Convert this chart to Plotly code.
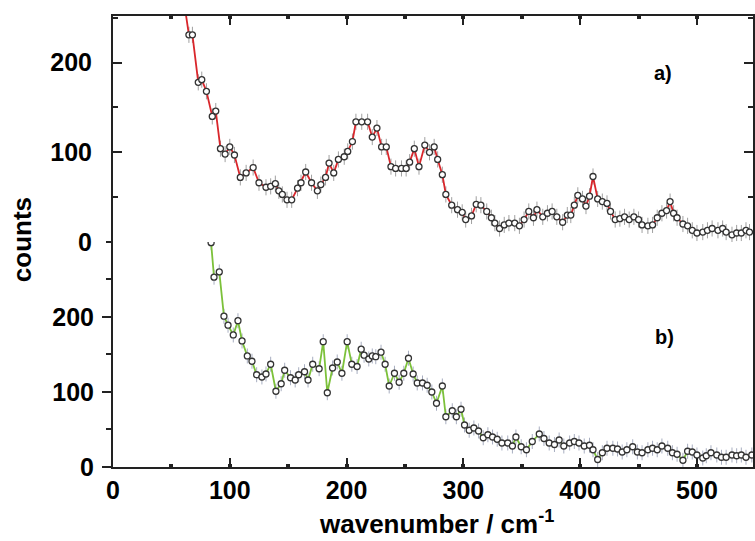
import plotly.graph_objects as go

# ---- data: panel a) (top, red) ----
wn_a = [60, 65, 68, 73, 76, 80, 85, 88, 92, 96, 100, 104, 109, 114, 120, 125, 131, 135, 139, 142,
        145, 149, 153, 158, 161, 165, 170, 175, 178, 182, 185, 189, 193, 198, 201, 205, 208, 213, 218, 222,
        226, 230, 234, 238, 242, 247, 251, 254, 258, 262, 267, 271, 275, 278, 282, 285, 290, 295, 299, 302,
        307, 311, 315, 320, 324, 327, 331, 335, 339, 344, 348, 352, 356, 360, 363, 368, 372, 376, 380, 385,
        389, 392, 395, 398, 402, 405, 408, 411, 415, 419, 423, 426, 430, 434, 438, 442, 446, 450, 453, 458,
        462, 466, 470, 474, 477, 480, 483, 488, 492, 496, 500, 505, 509, 513, 518, 522, 525, 530, 534, 538,
        542, 545]
counts_a = [275, 231, 231, 178, 181, 168, 140, 146, 104, 98, 106, 97, 72, 77, 83, 66, 61, 62, 65, 57,
            53, 47, 47, 60, 66, 78, 66, 57, 64, 72, 88, 77, 92, 95, 101, 112, 134, 134, 134, 117,
            127, 106, 106, 84, 82, 82, 82, 89, 104, 84, 108, 100, 106, 92, 75, 53, 41, 36, 33, 25,
            29, 42, 41, 34, 27, 21, 15, 19, 21, 21, 18, 25, 34, 27, 36, 28, 32, 34, 28, 22,
            30, 30, 41, 52, 48, 40, 51, 73, 48, 45, 43, 34, 25, 26, 28, 25, 28, 25, 19, 18,
            19, 27, 32, 35, 45, 32, 27, 20, 18, 13, 10, 11, 13, 15, 13, 15, 11, 8, 10, 10,
            13, 11]

# ---- data: panel b) (bottom, green) ----
wn_b = [84, 86.5, 91, 95, 98.5, 103, 107, 110.5, 115, 119, 123, 127.5, 131, 135, 139.5, 144, 147, 152, 156, 159,
        164, 167, 171, 176.5, 180, 183.5, 188, 192, 196, 200.5, 204.5, 209, 212.5, 215, 219, 222, 225, 229.5, 233, 236.5,
        241, 245, 249, 253, 257, 260.5, 265, 269, 273, 277, 282, 285, 290.5, 294, 298, 301, 305, 309, 313, 317,
        321, 325, 329, 333, 338, 342, 345, 349.5, 354, 359, 365, 369, 373.5, 378, 382, 386, 391, 395, 399, 403.5,
        408, 411, 415, 419, 423, 428, 432, 436, 440, 445, 449, 453, 458, 462, 466, 470, 475, 479, 483, 488,
        492, 496, 500, 505, 508, 512, 517, 521, 525, 530, 534, 538, 542, 547]
counts_b = [299, 253, 260, 201, 189, 176, 195, 168, 148, 141, 123, 120, 124, 137, 101, 111, 129, 119, 116, 123,
            127, 116, 137, 131, 167, 99, 132, 140, 125, 167, 137, 134, 157, 149, 144, 148, 147, 153, 137, 108,
            125, 113, 125, 145, 124, 112, 112, 109, 100, 85, 108, 67, 75, 67, 77, 56, 49, 52, 48, 39,
            43, 40, 37, 32, 32, 28, 40, 27, 23, 34, 44, 38, 32, 30, 36, 28, 32, 34, 32, 28,
            29, 23, 10, 19, 25, 25, 24, 20, 23, 27, 20, 19, 23, 25, 23, 28, 25, 19, 17, 9,
            21, 20, 16, 12, 15, 19, 16, 13, 13, 16, 15, 16, 13, 16]

x_ticks = [0, 100, 200, 300, 400, 500]
y_ticks_a = [0, 100, 200]
y_ticks_b = [0, 100, 200]

FONT = "Liberation Sans, Arial, sans-serif"
AX = "#222222"
TICKFONT = dict(family=FONT, size=25, color="black", weight="bold")
marker = dict(symbol="circle", size=6, color="white", line=dict(width=1.3, color="#333333"))

fig = go.Figure()
fig.add_trace(go.Scatter(
    x=wn_a, y=counts_a, xaxis="x2", yaxis="y2", mode="lines+markers",
    line=dict(color="#d9262b", width=1.8), marker=marker,
    error_y=dict(type="constant", value=9, color="#a0a0a0", thickness=1, width=0),
    cliponaxis=True, showlegend=False))
fig.add_trace(go.Scatter(
    x=wn_b, y=counts_b, xaxis="x", yaxis="y", mode="lines+markers",
    line=dict(color="#7cc13a", width=1.8), marker=marker,
    error_y=dict(type="constant", value=10, color="#a8aec0", thickness=1, width=0),
    cliponaxis=True, showlegend=False))

base_y = dict(showline=True, linewidth=2, linecolor=AX, mirror="ticks", automargin=False,
              ticklen=9, tickwidth=2, tickcolor=AX, showgrid=False, zeroline=False,
              tickfont=TICKFONT)

fig.update_layout(
    template="none",
    width=755, height=541,
    margin=dict(l=113, r=2, t=16, b=74, autoexpand=False),
    paper_bgcolor="white", plot_bgcolor="white",
    xaxis=dict(anchor="y", range=[0, 548], tickvals=x_ticks, showline=True, linewidth=2,
               linecolor=AX, ticks="inside", ticklen=9, tickwidth=2, tickcolor=AX, automargin=False,
               showgrid=False, zeroline=False, ticklabelstandoff=0, tickfont=TICKFONT,
               minor=dict(dtick=50, tick0=0, ticks="inside", ticklen=3, tickwidth=4, tickcolor=AX)),
    xaxis2=dict(anchor="y2", matches="x", side="top", range=[0, 548], tickvals=x_ticks,
                showticklabels=False, showline=True, linewidth=2, linecolor=AX, automargin=False,
                ticks="inside", ticklen=9, tickwidth=2, tickcolor=AX, showgrid=False, zeroline=False,
                minor=dict(dtick=50, tick0=0, ticks="inside", ticklen=3, tickwidth=4, tickcolor=AX)),
    yaxis=dict(domain=[0, 0.499], range=[0, 300], tickvals=y_ticks_b, ticks="outside",
               ticklabelstandoff=3,
               minor=dict(dtick=50, tick0=0, ticks="outside", ticklen=5, tickwidth=2, tickcolor=AX),
               **base_y),
    yaxis2=dict(domain=[0.499, 1], range=[0, 252], tickvals=y_ticks_a, ticks="inside",
                ticklabelstandoff=14,
                minor=dict(dtick=50, tick0=0, ticks="inside", ticklen=5, tickwidth=2, tickcolor=AX),
                **base_y),
    annotations=[
        dict(text="counts", xref="paper", yref="paper", x=(22 - 113) / 640, y=0.503,
             textangle=-90, showarrow=False, xanchor="center", yanchor="middle",
             font=dict(family=FONT, size=26, color="black", weight="bold")),
        dict(text="wavenumber / cm<sup>-1</sup>", xref="paper", yref="paper",
             x=(436 - 113) / 640, y=(467 - 522) / 451, showarrow=False,
             xanchor="center", yanchor="middle",
             font=dict(family=FONT, size=26, color="black", weight="bold")),
        dict(text="a)", xref="x2", yref="y2", x=471, y=188, showarrow=False,
             font=dict(family=FONT, size=20, color="black", weight="bold")),
        dict(text="b)", xref="x", yref="y", x=472, y=173, showarrow=False,
             font=dict(family=FONT, size=20, color="black", weight="bold")),
    ],
)

fig.write_html("out.html", config={"displayModeBar": False},
               post_script="document.body.style.margin='0';document.body.style.padding='0';")
